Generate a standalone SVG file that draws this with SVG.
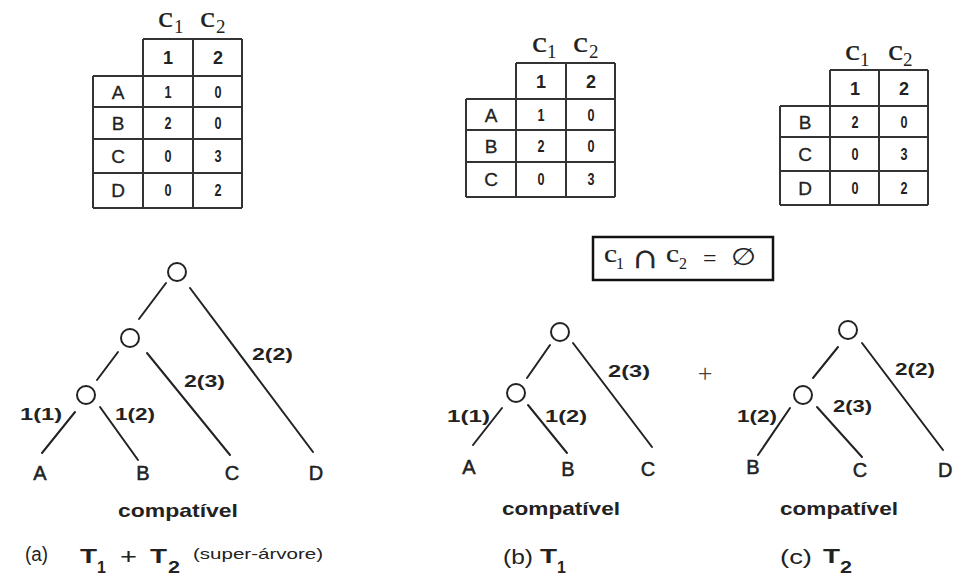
<svg xmlns="http://www.w3.org/2000/svg" width="954" height="578" viewBox="0 0 954 578">
<style>
.bg{fill:#fff}
.ln{stroke:#222;stroke-width:2;fill:none;stroke-linecap:round}
.nd{fill:none;stroke:#222;stroke-width:2}
.tb{stroke:#333;stroke-width:2;fill:none}
.s{font-family:"Liberation Sans",Arial,sans-serif;fill:#222}
.b{font-weight:bold}
.sf{font-family:"Liberation Serif","Times New Roman",serif;fill:#222}
.lf{font-size:20px;stroke:#222;stroke-width:0.5}
.el{font-size:17px;font-weight:bold}
.cp{font-size:19px;font-weight:bold}
.hd{font-size:18px;font-weight:bold;text-anchor:middle}
.rl{font-size:19px;text-anchor:middle;stroke:#222;stroke-width:0.3}
.vl{font-size:16px;font-weight:bold;text-anchor:middle}
.cc{font-size:29px;stroke:#222;stroke-width:0.2}
.cs{font-size:19px}
.cap{font-size:20px}
</style>
<rect class="bg" x="0" y="0" width="954" height="578"/>

<!-- Table (a) -->
<g id="table-a">
  <path class="tb" d="M143 39H242M93 76H242M93 107H242M93 139H242M93 173H242M93 208H242M93 76V208M143 39V208M193 39V208M242 39V208"/>
  <text class="sf cc" x="158" y="27" textLength="15" lengthAdjust="spacingAndGlyphs">c</text><text class="sf cs" x="174" y="33">1</text>
  <text class="sf cc" x="200" y="27" textLength="15" lengthAdjust="spacingAndGlyphs">c</text><text class="sf cs" x="216" y="33">2</text>
  <text class="s hd" x="168" y="64">1</text><text class="s hd" x="218" y="64">2</text>
  <text class="s rl" x="118" y="99">A</text><text class="s vl" x="168" y="98" textLength="7" lengthAdjust="spacingAndGlyphs">1</text><text class="s vl" x="218" y="98" textLength="7" lengthAdjust="spacingAndGlyphs">0</text>
  <text class="s rl" x="118" y="130">B</text><text class="s vl" x="168" y="129" textLength="7" lengthAdjust="spacingAndGlyphs">2</text><text class="s vl" x="218" y="129" textLength="7" lengthAdjust="spacingAndGlyphs">0</text>
  <text class="s rl" x="118" y="163">C</text><text class="s vl" x="168" y="162" textLength="7" lengthAdjust="spacingAndGlyphs">0</text><text class="s vl" x="218" y="162" textLength="7" lengthAdjust="spacingAndGlyphs">3</text>
  <text class="s rl" x="118" y="197">D</text><text class="s vl" x="168" y="196" textLength="7" lengthAdjust="spacingAndGlyphs">0</text><text class="s vl" x="218" y="196" textLength="7" lengthAdjust="spacingAndGlyphs">2</text>
</g>

<!-- Table (b) -->
<g id="table-b">
  <path class="tb" d="M516 63H615M466 99H615M466 130H615M466 162H615M466 197H615M466 99V197M516 63V197M566 63V197M615 63V197"/>
  <text class="sf cc" x="532" y="52" textLength="15" lengthAdjust="spacingAndGlyphs">c</text><text class="sf cs" x="547" y="58">1</text>
  <text class="sf cc" x="573" y="52" textLength="15" lengthAdjust="spacingAndGlyphs">c</text><text class="sf cs" x="589" y="58">2</text>
  <text class="s hd" x="541" y="88">1</text><text class="s hd" x="591" y="88">2</text>
  <text class="s rl" x="491" y="122">A</text><text class="s vl" x="541" y="121" textLength="7" lengthAdjust="spacingAndGlyphs">1</text><text class="s vl" x="591" y="121" textLength="7" lengthAdjust="spacingAndGlyphs">0</text>
  <text class="s rl" x="491" y="153">B</text><text class="s vl" x="541" y="152" textLength="7" lengthAdjust="spacingAndGlyphs">2</text><text class="s vl" x="591" y="152" textLength="7" lengthAdjust="spacingAndGlyphs">0</text>
  <text class="s rl" x="491" y="186">C</text><text class="s vl" x="541" y="185" textLength="7" lengthAdjust="spacingAndGlyphs">0</text><text class="s vl" x="591" y="185" textLength="7" lengthAdjust="spacingAndGlyphs">3</text>
</g>

<!-- Table (c) -->
<g id="table-c">
  <path class="tb" d="M830 70H928M780 106H928M780 137H928M780 171H928M780 205H928M780 106V205M830 70V205M879 70V205M928 70V205"/>
  <text class="sf cc" x="845" y="60" textLength="15" lengthAdjust="spacingAndGlyphs">c</text><text class="sf cs" x="860" y="66">1</text>
  <text class="sf cc" x="888" y="60" textLength="15" lengthAdjust="spacingAndGlyphs">c</text><text class="sf cs" x="903" y="66">2</text>
  <text class="s hd" x="855" y="95">1</text><text class="s hd" x="904" y="95">2</text>
  <text class="s rl" x="805" y="129">B</text><text class="s vl" x="855" y="128" textLength="7" lengthAdjust="spacingAndGlyphs">2</text><text class="s vl" x="904" y="128" textLength="7" lengthAdjust="spacingAndGlyphs">0</text>
  <text class="s rl" x="805" y="161">C</text><text class="s vl" x="855" y="160" textLength="7" lengthAdjust="spacingAndGlyphs">0</text><text class="s vl" x="904" y="160" textLength="7" lengthAdjust="spacingAndGlyphs">3</text>
  <text class="s rl" x="805" y="195">D</text><text class="s vl" x="855" y="194" textLength="7" lengthAdjust="spacingAndGlyphs">0</text><text class="s vl" x="904" y="194" textLength="7" lengthAdjust="spacingAndGlyphs">2</text>
</g>

<!-- Intersection box -->
<g id="intersection">
  <rect x="593" y="237" width="180" height="43" fill="none" stroke="#111" stroke-width="2.5"/>
  <text class="sf" font-size="26" x="604" y="262" stroke="#222" stroke-width="0.2" textLength="13" lengthAdjust="spacingAndGlyphs">c</text><text class="sf" font-size="16" x="616" y="269">1</text>
  <text class="sf" font-size="34" fill="#222" x="631" y="268" stroke="#222" stroke-width="0.6" textLength="28" lengthAdjust="spacingAndGlyphs">∩</text>
  <text class="sf" font-size="26" x="666" y="262" stroke="#222" stroke-width="0.2" textLength="13" lengthAdjust="spacingAndGlyphs">c</text><text class="sf" font-size="16" x="679" y="269">2</text>
  <text class="sf" font-size="24" x="703" y="266">=</text>
  <text font-family="DejaVu Sans,sans-serif" font-size="24" fill="#222" x="731" y="265" textLength="25" lengthAdjust="spacingAndGlyphs">∅</text>
</g>

<!-- Connectors -->
<g id="connectors">
  <line class="ln" x1="166" y1="283" x2="139" y2="319"/>
  <line class="ln" x1="190" y1="288" x2="313" y2="452"/>
  <line class="ln" x1="147" y1="353" x2="230" y2="455"/>
  <line class="ln" x1="118" y1="352" x2="97" y2="380"/>
  <line class="ln" x1="75" y1="412" x2="42" y2="453"/>
  <line class="ln" x1="100" y1="407" x2="138" y2="460"/>

  <line class="ln" x1="550" y1="345" x2="527" y2="378"/>
  <line class="ln" x1="573" y1="343" x2="652" y2="447"/>
  <line class="ln" x1="502" y1="408" x2="473" y2="445"/>
  <line class="ln" x1="528" y1="405" x2="567" y2="453"/>

  <line class="ln" x1="838" y1="347" x2="813" y2="378"/>
  <line class="ln" x1="862" y1="343" x2="943" y2="450"/>
  <line class="ln" x1="790" y1="408" x2="758" y2="455"/>
  <line class="ln" x1="817" y1="407" x2="862" y2="457"/>
</g>

<!-- Edge labels -->
<g id="edge-labels">
  <text class="s el" x="20" y="420" textLength="42" lengthAdjust="spacingAndGlyphs">1(1)</text>
  <text class="s el" x="115" y="420" textLength="40" lengthAdjust="spacingAndGlyphs">1(2)</text>
  <text class="s el" x="184" y="387" textLength="41" lengthAdjust="spacingAndGlyphs">2(3)</text>
  <text class="s el" x="252" y="360" textLength="41" lengthAdjust="spacingAndGlyphs">2(2)</text>

  <text class="s el" x="608" y="377" textLength="42" lengthAdjust="spacingAndGlyphs">2(3)</text>
  <text class="s el" x="447" y="422" textLength="43" lengthAdjust="spacingAndGlyphs">1(1)</text>
  <text class="s el" x="545" y="422" textLength="42" lengthAdjust="spacingAndGlyphs">1(2)</text>

  <text class="s el" x="895" y="375" textLength="40" lengthAdjust="spacingAndGlyphs">2(2)</text>
  <text class="s el" x="833" y="412" textLength="39" lengthAdjust="spacingAndGlyphs">2(3)</text>
  <text class="s el" x="737" y="422" textLength="40" lengthAdjust="spacingAndGlyphs">1(2)</text>
</g>

<!-- Tree (a) nodes -->
<g id="a-root"><circle class="nd" cx="177" cy="272" r="9"/></g>
<g id="a-mid"><circle class="nd" cx="130" cy="338" r="9"/></g>
<g id="a-low"><circle class="nd" cx="86" cy="395" r="9"/></g>
<g id="a-A"><text class="s lf" x="40" y="480" text-anchor="middle">A</text></g>
<g id="a-B"><text class="s lf" x="143" y="480" text-anchor="middle">B</text></g>
<g id="a-C"><text class="s lf" x="232" y="480" text-anchor="middle">C</text></g>
<g id="a-D"><text class="s lf" x="316" y="480" text-anchor="middle">D</text></g>
<text class="s cp" x="118" y="517" textLength="120" lengthAdjust="spacingAndGlyphs">compatível</text>

<!-- Tree (b) nodes -->
<g id="b-root"><circle class="nd" cx="560" cy="332" r="9"/></g>
<g id="b-mid"><circle class="nd" cx="516" cy="393" r="9"/></g>
<g id="b-A"><text class="s lf" x="469" y="474" text-anchor="middle">A</text></g>
<g id="b-B"><text class="s lf" x="568" y="476" text-anchor="middle">B</text></g>
<g id="b-C"><text class="s lf" x="648" y="476" text-anchor="middle">C</text></g>
<text class="s cp" x="502" y="515" textLength="118" lengthAdjust="spacingAndGlyphs">compatível</text>

<text font-family="Liberation Serif,serif" font-size="26" fill="#444" x="705" y="382" text-anchor="middle">+</text>

<!-- Tree (c) nodes -->
<g id="c-root"><circle class="nd" cx="848" cy="330" r="9"/></g>
<g id="c-mid"><circle class="nd" cx="803" cy="395" r="9"/></g>
<g id="c-B"><text class="s lf" x="753" y="474" text-anchor="middle">B</text></g>
<g id="c-C"><text class="s lf" x="860" y="477" text-anchor="middle">C</text></g>
<g id="c-D"><text class="s lf" x="938" y="477">D</text></g>
<text class="s cp" x="780" y="515" textLength="118" lengthAdjust="spacingAndGlyphs">compatível</text>

<!-- Captions -->
<g id="captions">
  <text class="s cap" x="25" y="561" textLength="23" lengthAdjust="spacingAndGlyphs">(a)</text>
  <text class="s b" font-size="21" x="80" y="563" textLength="17" lengthAdjust="spacingAndGlyphs">T</text>
  <text class="s b" font-size="16" x="97" y="573">1</text>
  <text class="s" font-size="22" x="120" y="564" textLength="17" lengthAdjust="spacingAndGlyphs">+</text>
  <text class="s b" font-size="21" x="150" y="563" textLength="17" lengthAdjust="spacingAndGlyphs">T</text>
  <text class="s b" font-size="16" x="168" y="573" textLength="12" lengthAdjust="spacingAndGlyphs">2</text>
  <text class="s" font-size="15" x="193" y="559" textLength="130" lengthAdjust="spacingAndGlyphs">(super-árvore)</text>

  <text class="s cap" x="503" y="564" textLength="30" lengthAdjust="spacingAndGlyphs">(b)</text>
  <text class="s b" font-size="21" x="540" y="563" textLength="17" lengthAdjust="spacingAndGlyphs">T</text>
  <text class="s b" font-size="16" x="557" y="573">1</text>

  <text class="s cap" x="780" y="564" textLength="32" lengthAdjust="spacingAndGlyphs">(c)</text>
  <text class="s b" font-size="21" x="823" y="563" textLength="17" lengthAdjust="spacingAndGlyphs">T</text>
  <text class="s b" font-size="16" x="840" y="573" textLength="12" lengthAdjust="spacingAndGlyphs">2</text>
</g>
</svg>
